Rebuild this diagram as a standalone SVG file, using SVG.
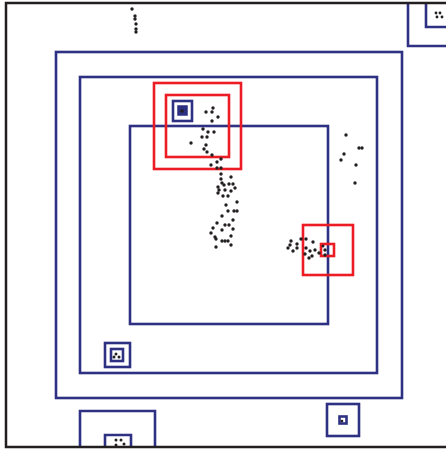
<svg xmlns="http://www.w3.org/2000/svg" width="446" height="453" viewBox="0 0 446 453">
<defs>
<style>
.frame{fill:none;stroke:#231f20;stroke-width:2.5}
.b{fill:none;stroke:#2e3182;stroke-width:2.6}
.r{fill:none;stroke:#ec1c24;stroke-width:2.6}
.bf{fill:#2e3182;stroke:#2e3182;stroke-width:1.5}
.d{fill:#231f20}
</style>
</defs>
<rect width="446" height="453" fill="#fff"/>
<g id="blue-outer"><rect class="b" x="56" y="52" width="346" height="346"/></g>
<g id="blue-middle"><rect class="b" x="80" y="77" width="297" height="296"/></g>
<g id="blue-inner"><rect class="b" x="130" y="126" width="198" height="198"/></g>
<g id="red-top-outer"><rect class="r" x="154" y="83" width="87" height="86"/></g>
<g id="red-top-inner"><rect class="r" x="166" y="95" width="63" height="62"/></g>
<g id="red-right-outer"><rect class="r" x="303" y="225" width="50" height="50"/></g>
<g id="red-right-inner"><rect class="r" x="321" y="244" width="13" height="12"/></g>
<g id="box-top"><rect class="b" x="173" y="101" width="19" height="20"/><rect class="bf" x="178" y="106" width="9" height="9"/><circle class="d" cx="182" cy="111" r="1.8"/></g>
<g id="box-left"><rect class="b" x="105" y="343" width="25" height="24"/><rect class="b" x="111" y="349" width="12" height="12"/><circle class="d" cx="116" cy="354" r="1.5"/><circle class="d" cx="114" cy="357" r="1.5"/><circle class="d" cx="119" cy="357" r="1.5"/></g>
<g id="box-bottom"><path class="b" d="M80 447V411H155V447"/><path class="b" d="M105 447V435H131V447"/><circle class="d" cx="116" cy="440" r="1.5"/><circle class="d" cx="121" cy="440" r="1.5"/><circle class="d" cx="116" cy="445" r="1.5"/><circle class="d" cx="124" cy="444" r="1.5"/></g>
<g id="box-bottom-right"><rect class="b" x="327" y="404" width="32" height="32"/><rect class="b" x="339.5" y="416.5" width="7" height="7"/><circle class="d" cx="342" cy="421" r="1.3"/></g>
<g id="box-top-right"><path class="b" d="M408 3V46H447"/><path class="b" d="M426 3V27H447"/><circle class="d" cx="436" cy="13" r="1.4"/><circle class="d" cx="440" cy="13" r="1.4"/><circle class="d" cx="437" cy="17" r="1.4"/><circle class="d" cx="442" cy="17" r="1.4"/></g>
<g id="frame"><rect class="frame" x="6" y="3" width="460" height="444"/></g>
<g id="connectors"></g>
<g id="dots" class="d">
<circle cx="132" cy="9" r="1.7"/><circle cx="135" cy="16" r="1.7"/><circle cx="135" cy="19" r="1.7"/><circle cx="136" cy="24" r="1.7"/><circle cx="136" cy="29" r="1.7"/><circle cx="136" cy="32" r="1.7"/>
<circle cx="206" cy="112" r="1.7"/><circle cx="212" cy="112" r="1.7"/><circle cx="213" cy="108" r="1.7"/><circle cx="218" cy="117" r="1.7"/><circle cx="212" cy="121" r="1.7"/><circle cx="203" cy="129" r="1.7"/><circle cx="208" cy="132" r="1.7"/><circle cx="214" cy="132" r="1.7"/><circle cx="202" cy="137" r="1.7"/><circle cx="207" cy="137" r="1.7"/><circle cx="191" cy="143" r="1.7"/><circle cx="206" cy="145" r="1.7"/><circle cx="204" cy="149" r="1.7"/><circle cx="207" cy="152" r="1.7"/><circle cx="212" cy="155" r="1.7"/><circle cx="217" cy="162" r="1.7"/><circle cx="221" cy="159" r="1.7"/><circle cx="211" cy="165" r="1.7"/><circle cx="217" cy="168" r="1.7"/><circle cx="221" cy="168" r="1.7"/>
<circle cx="221" cy="174" r="1.7"/><circle cx="231" cy="177" r="1.7"/><circle cx="221" cy="179" r="1.7"/><circle cx="222" cy="183" r="1.7"/><circle cx="218" cy="187" r="1.7"/><circle cx="224" cy="185" r="1.7"/><circle cx="229" cy="184" r="1.7"/><circle cx="233" cy="184" r="1.7"/><circle cx="235" cy="188" r="1.7"/><circle cx="219" cy="190" r="1.7"/><circle cx="225" cy="190" r="1.7"/><circle cx="231" cy="191" r="1.7"/><circle cx="218" cy="193" r="1.7"/><circle cx="223" cy="196" r="1.7"/><circle cx="228" cy="196" r="1.7"/><circle cx="237" cy="202" r="1.7"/><circle cx="226" cy="205" r="1.7"/><circle cx="228" cy="211" r="1.7"/><circle cx="234" cy="211" r="1.7"/><circle cx="237" cy="211" r="1.7"/><circle cx="222" cy="216" r="1.7"/><circle cx="233" cy="220" r="1.7"/><circle cx="217" cy="223" r="1.7"/><circle cx="225" cy="225" r="1.7"/><circle cx="229" cy="225" r="1.7"/><circle cx="213" cy="228" r="1.7"/><circle cx="222" cy="230" r="1.7"/><circle cx="233" cy="229" r="1.7"/><circle cx="211" cy="233" r="1.7"/><circle cx="231" cy="236" r="1.7"/><circle cx="215" cy="237" r="1.7"/><circle cx="216" cy="239" r="1.7"/><circle cx="222" cy="241" r="1.7"/><circle cx="225" cy="241" r="1.7"/><circle cx="228" cy="241" r="1.7"/><circle cx="231" cy="245" r="1.7"/><circle cx="216" cy="247" r="1.7"/>
<circle cx="291" cy="241" r="1.7"/><circle cx="301" cy="239" r="1.7"/><circle cx="306" cy="239" r="1.7"/><circle cx="297" cy="244" r="1.7"/><circle cx="313" cy="242" r="1.7"/><circle cx="290" cy="245" r="1.7"/><circle cx="288" cy="248" r="1.7"/><circle cx="293" cy="251" r="1.7"/><circle cx="297" cy="248" r="1.7"/><circle cx="306" cy="248" r="1.7"/><circle cx="310" cy="251" r="1.7"/><circle cx="315" cy="250" r="1.7"/><circle cx="305" cy="254" r="1.7"/><circle cx="312" cy="256" r="1.7"/><circle cx="309" cy="258" r="1.7"/><circle cx="319" cy="253" r="1.7"/><circle cx="325" cy="250" r="1.7"/><circle cx="325" cy="255" r="1.7"/><circle cx="323" cy="246" r="1.5"/>
<circle cx="346" cy="135" r="1.7"/><circle cx="359" cy="148" r="1.7"/><circle cx="362" cy="148" r="1.7"/><circle cx="344" cy="154" r="1.7"/><circle cx="341" cy="160" r="1.7"/><circle cx="356" cy="165" r="1.7"/><circle cx="355" cy="183" r="1.7"/>
</g>
</svg>
